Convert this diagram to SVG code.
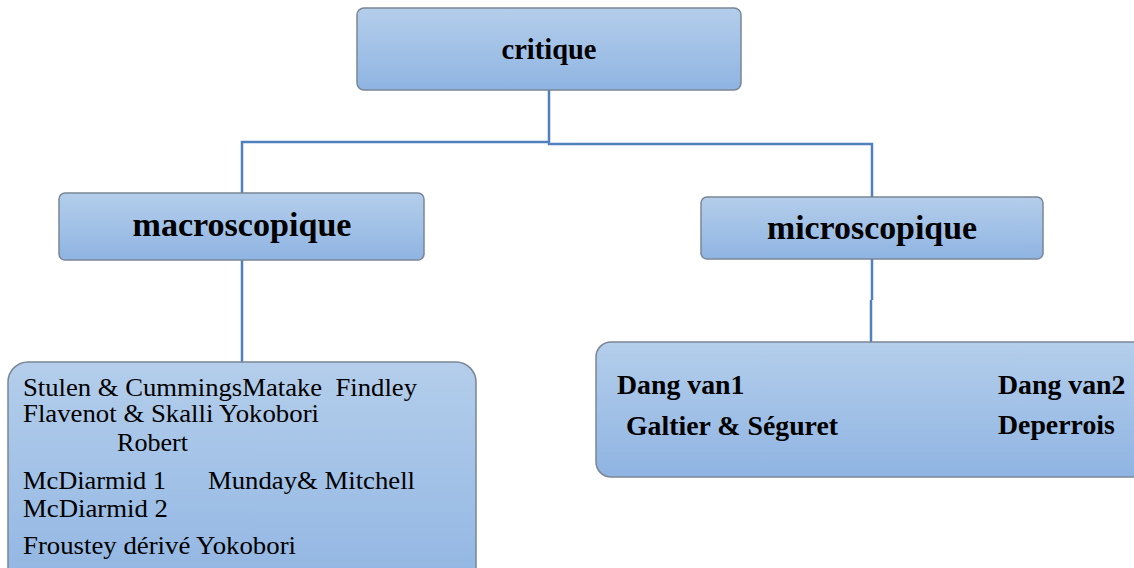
<svg xmlns="http://www.w3.org/2000/svg" width="1134" height="568" viewBox="0 0 1134 568">
  <defs>
    <linearGradient id="boxFill" x1="0" y1="0" x2="0" y2="1">
      <stop offset="0" stop-color="#B4CEEB"/>
      <stop offset="1" stop-color="#8FB4E2"/>
    </linearGradient>
    <style>
      .box { fill: url(#boxFill); stroke: #7A8696; stroke-width: 1.5; }
      .link { fill: none; stroke: #4F81BD; stroke-width: 2.5; }
      .head { font-family: "Liberation Serif", "Times New Roman", serif; font-weight: bold; fill: #000; text-anchor: middle; }
      .item { font-family: "Liberation Serif", "Times New Roman", serif; font-size: 25px; fill: #000; }
      .bitem { font-family: "Liberation Serif", "Times New Roman", serif; font-size: 27.8px; font-weight: bold; fill: #000; }
    </style>
  </defs>
  <rect width="1134" height="568" fill="#FFFFFF"/>

  <!-- connectors -->
  <g id="connectors">
    <path class="link" d="M549,90 V144 H872 V197"/>
    <path class="link" d="M549,142 H242 V193"/>
    <path class="link" d="M242,260 V362"/>
    <path class="link" d="M872,259 V300 M871,300 V342"/>
  </g>

  <!-- root -->
  <g id="critique">
    <rect class="box" x="357" y="8" width="384" height="82" rx="7"/>
    <text class="head" x="549" y="59" font-size="29" textLength="95" lengthAdjust="spacingAndGlyphs">critique</text>
  </g>

  <g id="macroscopique">
    <rect class="box" x="59" y="193" width="365" height="67" rx="6"/>
    <text class="head" x="242" y="236" font-size="34" textLength="219" lengthAdjust="spacingAndGlyphs">macroscopique</text>
  </g>

  <g id="microscopique">
    <rect class="box" x="701" y="197" width="342" height="62" rx="6"/>
    <text class="head" x="872" y="239" font-size="34" textLength="210" lengthAdjust="spacingAndGlyphs">microscopique</text>
  </g>

  <!-- leaf: macroscopic criteria -->
  <g id="macro-criteria">
    <rect class="box" x="8" y="362" width="468" height="240" rx="20"/>
    <text class="item" x="23" y="396" textLength="394" lengthAdjust="spacingAndGlyphs" xml:space="preserve">Stulen &amp; CummingsMatake  Findley</text>
    <text class="item" x="23" y="422" textLength="296" lengthAdjust="spacingAndGlyphs">Flavenot &amp; Skalli Yokobori</text>
    <text class="item" x="117" y="451" textLength="71" lengthAdjust="spacingAndGlyphs">Robert</text>
    <text class="item" x="23" y="489" textLength="143" lengthAdjust="spacingAndGlyphs">McDiarmid 1</text>
    <text class="item" x="208" y="489" textLength="207" lengthAdjust="spacingAndGlyphs">Munday&amp; Mitchell</text>
    <text class="item" x="23" y="517" textLength="145" lengthAdjust="spacingAndGlyphs">McDiarmid 2</text>
    <text class="item" x="23" y="554" textLength="273" lengthAdjust="spacingAndGlyphs">Froustey dérivé Yokobori</text>
  </g>

  <!-- leaf: microscopic criteria -->
  <g id="micro-criteria">
    <rect class="box" x="596" y="342" width="560" height="135" rx="15"/>
    <text class="bitem" x="617" y="394">Dang van1</text>
    <text class="bitem" x="626" y="435">Galtier &amp; Séguret</text>
    <text class="bitem" x="998" y="394">Dang van2</text>
    <text class="bitem" x="998" y="434">Deperrois</text>
  </g>
</svg>
